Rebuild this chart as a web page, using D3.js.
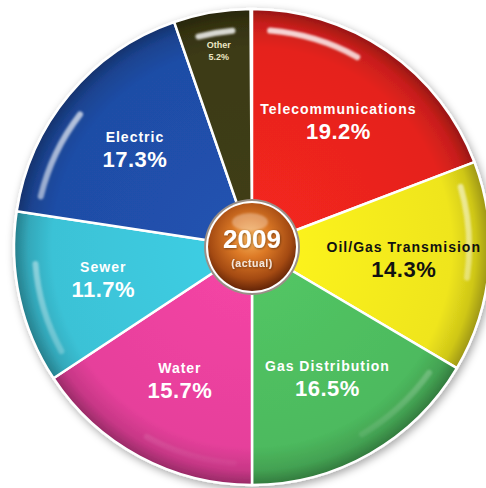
<!DOCTYPE html>
<html>
<head>
<meta charset="utf-8">
<script src="https://cdn.jsdelivr.net/npm/d3@7"></script>
<style>
  html, body { margin: 0; padding: 0; background: #ffffff; }
  svg { display: block; }
</style>
</head>
<body>
<svg id="chart" width="486" height="488"></svg>
<script>
// Market share by sector, 2009 (actual)
const categories = ["Telecommunications", "Oil/Gas Transmision", "Gas Distribution", "Water", "Sewer", "Electric", "Other"];
const shares = [19.2, 14.3, 16.5, 15.7, 11.7, 17.3, 5.2];
const colors = ["#e5231e", "#efe51c", "#4dba5e", "#e6409b", "#3bc2d6", "#1f4da6", "#3c3a14"];
const labelColors = ["#ffffff", "#111111", "#ffffff", "#ffffff", "#ffffff", "#ffffff", "#ece7c4"];
const centerTitle = "2009";
const centerSub = "(actual)";

const cx = 252, cy = 247, R = 238, hubR = 45;

const svg = d3.select("#chart");
const defs = svg.append("defs");

// soft shadow under the whole disc
const shadow = defs.append("filter").attr("id", "discShadow")
  .attr("x", "-10%").attr("y", "-10%").attr("width", "120%").attr("height", "120%");
shadow.append("feDropShadow").attr("dx", 2).attr("dy", 3).attr("stdDeviation", 4)
  .attr("flood-color", "#000").attr("flood-opacity", 0.35);

const textShadow = defs.append("filter").attr("id", "textShadow")
  .attr("x", "-20%").attr("y", "-30%").attr("width", "140%").attr("height", "160%");
textShadow.append("feDropShadow").attr("dx", 0.6).attr("dy", 0.8).attr("stdDeviation", 0.8)
  .attr("flood-color", "#000").attr("flood-opacity", 0.45);

const glowBlur = defs.append("filter").attr("id", "soft")
  .attr("x", "-20%").attr("y", "-20%").attr("width", "140%").attr("height", "140%");
glowBlur.append("feGaussianBlur").attr("stdDeviation", 1.2);

const data = categories.map((c, i) => ({ name: c, value: shares[i], color: colors[i], text: labelColors[i] }));

const pie = d3.pie().sort(null).value(d => d.value).startAngle(0).endAngle(2 * Math.PI * d3.sum(shares) / 100);
const arcs = pie(data);

// per-slice radial shading: bright body, darker bevelled rim
data.forEach((d, i) => {
  const base = d3.color(d.color);
  const g = defs.append("radialGradient").attr("id", "sh" + i)
    .attr("gradientUnits", "userSpaceOnUse")
    .attr("cx", 0).attr("cy", 0).attr("r", R);
  g.append("stop").attr("offset", "0%").attr("stop-color", base.brighter(0.2));
  g.append("stop").attr("offset", "84%").attr("stop-color", base);
  g.append("stop").attr("offset", "94%").attr("stop-color", base.darker(0.4));
  g.append("stop").attr("offset", "100%").attr("stop-color", base.darker(1.2));
});

// gloss: strongest on upper slices
const gloss = defs.append("linearGradient").attr("id", "gloss")
  .attr("gradientUnits", "userSpaceOnUse")
  .attr("x1", 0).attr("y1", -R).attr("x2", 0).attr("y2", R);
gloss.append("stop").attr("offset", "0%").attr("stop-color", "#fff").attr("stop-opacity", 0.85);
gloss.append("stop").attr("offset", "50%").attr("stop-color", "#fff").attr("stop-opacity", 0.45);
gloss.append("stop").attr("offset", "100%").attr("stop-color", "#fff").attr("stop-opacity", 0.0);

// hub sphere
const hub = defs.append("radialGradient").attr("id", "hub")
  .attr("cx", "48%").attr("cy", "40%").attr("r", "62%");
hub.append("stop").attr("offset", "0%").attr("stop-color", "#f6b45c");
hub.append("stop").attr("offset", "35%").attr("stop-color", "#dd7a26");
hub.append("stop").attr("offset", "75%").attr("stop-color", "#a44a12");
hub.append("stop").attr("offset", "100%").attr("stop-color", "#5a1f06");

const root = svg.append("g").attr("transform", `translate(${cx},${cy})`);

const arc = d3.arc().innerRadius(0).outerRadius(R);
const glossArc = d3.arc().innerRadius(R * 0.9).outerRadius(R * 0.925).cornerRadius(3);

const disc = root.append("g").attr("filter", "url(#discShadow)");
disc.selectAll("path.slice")
  .data(arcs)
  .join("path")
  .attr("class", "slice")
  .attr("d", arc)
  .attr("fill", (d, i) => `url(#sh${i})`)
  .attr("stroke", "#ffffff")
  .attr("stroke-width", 2.5)
  .attr("stroke-linejoin", "round");

// short highlight streak near the start of each slice's rim
root.selectAll("path.gloss")
  .data(arcs)
  .join("path")
  .attr("class", "gloss")
  .attr("d", d => {
    const s = d.startAngle + 0.07;
    const e = Math.min(d.endAngle - 0.07, s + 0.45);
    return glossArc({ startAngle: s, endAngle: e });
  })
  .attr("fill", "url(#gloss)")
  .attr("filter", "url(#soft)");

// slice labels
const labelFont = "'Liberation Sans', Arial, sans-serif";
const isSmall = d => (d.endAngle - d.startAngle) < 0.4;
const labels = root.selectAll("g.label")
  .data(arcs)
  .join("g")
  .attr("class", "label")
  .attr("transform", d => {
    const r = isSmall(d) ? R * 0.83 : R * 0.64;
    const a = (d.startAngle + d.endAngle) / 2;
    return `translate(${Math.sin(a) * r},${-Math.cos(a) * r})`;
  });

labels.append("text")
  .attr("text-anchor", "middle")
  .attr("y", d => isSmall(d) ? -4 : -8)
  .attr("font-family", labelFont)
  .attr("font-weight", "bold")
  .attr("font-size", d => isSmall(d) ? 9 : 14)
  .attr("letter-spacing", d => isSmall(d) ? 0 : 1)
  .attr("fill", d => d.data.text)
  .text(d => d.data.name);

labels.append("text")
  .attr("text-anchor", "middle")
  .attr("y", d => isSmall(d) ? 8 : 17)
  .attr("font-family", labelFont)
  .attr("font-weight", "bold")
  .attr("font-size", d => isSmall(d) ? 9 : 22)
  .attr("letter-spacing", d => isSmall(d) ? 0 : 0.5)
  .attr("fill", d => d.data.text)
  .text(d => d3.format(".1f")(d.data.value) + "%");

// centre hub
root.append("circle").attr("r", hubR + 3).attr("fill", "#9a8f86");
root.append("circle").attr("r", hubR + 1).attr("fill", "#ffffff");
root.append("circle").attr("r", hubR - 1).attr("fill", "url(#hub)");
root.append("ellipse").attr("cx", -2).attr("cy", -25).attr("rx", 18).attr("ry", 9)
  .attr("fill", "#fff").attr("opacity", 0.3).attr("filter", "url(#soft)");

root.append("text")
  .attr("text-anchor", "middle")
  .attr("y", 1)
  .attr("font-family", labelFont)
  .attr("font-weight", "bold")
  .attr("font-size", 26)
  .attr("fill", "#ffffff")
  .attr("filter", "url(#textShadow)")
  .text(centerTitle);

root.append("text")
  .attr("text-anchor", "middle")
  .attr("y", 20)
  .attr("font-family", labelFont)
  .attr("font-weight", "bold")
  .attr("font-size", 10.5)
  .attr("letter-spacing", 0.5)
  .attr("fill", "#f2e6dc")
  .attr("filter", "url(#textShadow)")
  .text(centerSub);
</script>
</body>
</html>
